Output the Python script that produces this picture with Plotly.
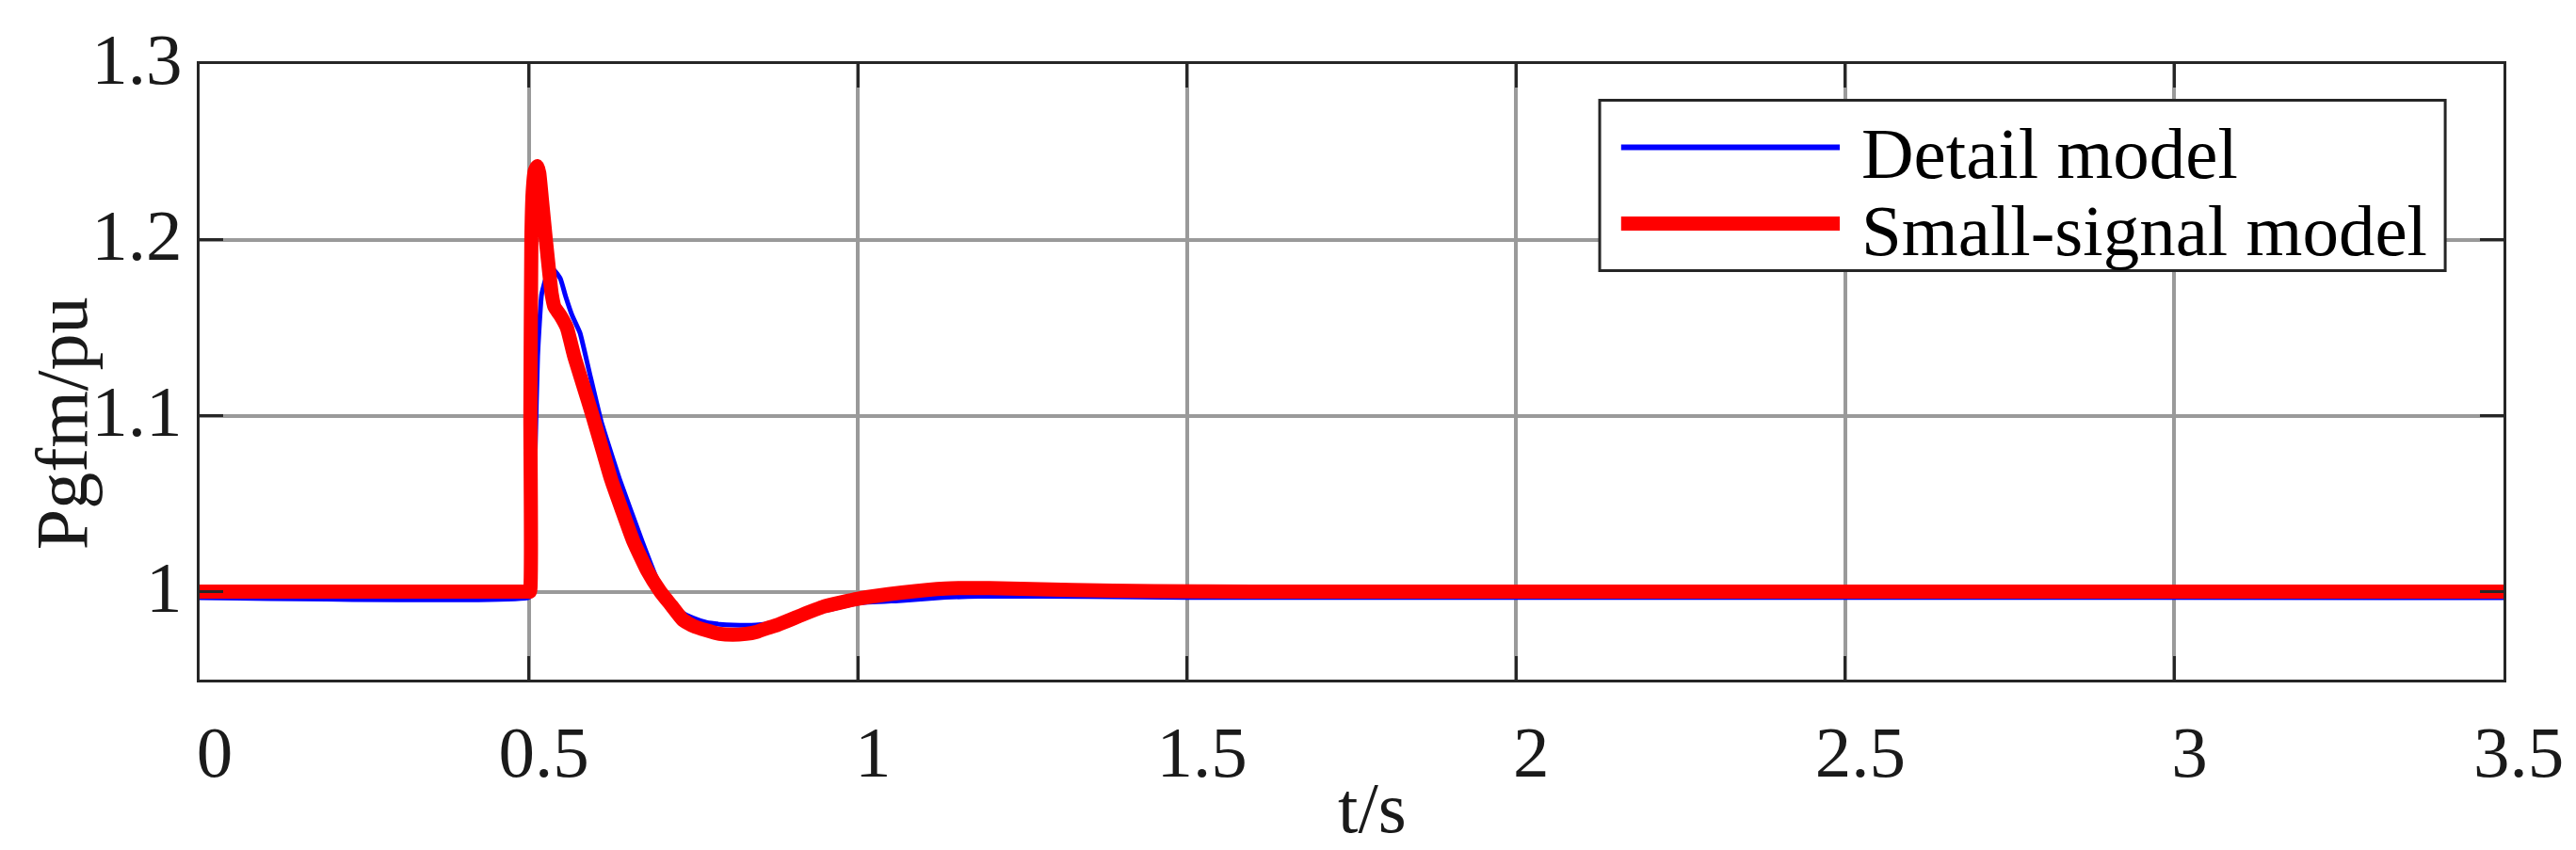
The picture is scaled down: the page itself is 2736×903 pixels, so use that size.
import plotly.graph_objects as go

# time axis / values (t in s, P in pu)
t_detail = [0.0, 0.5, 0.506, 0.508, 0.510, 0.5136, 0.5196, 0.527, 0.538, 0.548,
            0.556, 0.566, 0.578, 0.592, 0.610, 0.638, 0.672, 0.703, 0.72, 0.734,
            0.75, 0.77, 0.79, 0.81, 0.845, 0.877, 0.91, 0.948, 1.0, 1.067,
            1.133, 1.2, 1.35, 1.5, 3.5]
p_detail = [0.9966, 0.9966, 1.0, 1.05, 1.082, 1.134, 1.169, 1.179, 1.183, 1.178,
            1.168, 1.157, 1.147, 1.125, 1.097, 1.064, 1.029, 1.0, 0.993, 0.988,
            0.985, 0.9825, 0.9815, 0.981, 0.981, 0.9825, 0.9855, 0.989, 0.9935, 0.995,
            0.9968, 0.9975, 0.9972, 0.9967, 0.9966]

t_small = [0.0, 0.5, 0.502, 0.5025, 0.504, 0.506, 0.509, 0.513, 0.516, 0.520,
           0.526, 0.531, 0.535, 0.539, 0.548, 0.558, 0.569, 0.583, 0.597, 0.611,
           0.625, 0.642, 0.659, 0.680, 0.700, 0.717, 0.734, 0.75, 0.77, 0.79,
           0.81, 0.83, 0.845, 0.86, 0.877, 0.91, 0.948, 1.0, 1.067, 1.133,
           1.2, 1.325, 1.45, 1.6, 3.5]
p_small = [1.0, 1.0, 1.0, 1.1, 1.2, 1.227, 1.239, 1.242, 1.238, 1.223,
           1.2, 1.182, 1.169, 1.162, 1.157, 1.150, 1.134, 1.117, 1.1, 1.082,
           1.064, 1.046, 1.0286, 1.012, 1.0, 0.992, 0.984, 0.9805, 0.978, 0.976,
           0.9755, 0.976, 0.977, 0.979, 0.981, 0.986, 0.9915, 0.996, 0.9995, 1.0018,
           1.002, 1.001, 1.0003, 1.0, 1.0]

names = ['Detail model', 'Small-signal model']
x_ticks = [0, 0.5, 1, 1.5, 2, 2.5, 3, 3.5]
x_ticktext = ['0', '0.5', '1', '1.5', '2', '2.5', '3', '3.5']
y_ticks = [1.0, 1.1, 1.2, 1.3]
y_ticktext = ['1', '1.1', '1.2', '1.3']

FONT = 'Liberation Serif, Times New Roman, serif'
AX = '#262626'

fig = go.Figure()
fig.add_trace(go.Scatter(x=t_detail, y=p_detail, mode='lines', name=names[0],
                         line=dict(color='#0000ff', width=5, shape='spline', smoothing=0.4),
                         showlegend=False))
fig.add_trace(go.Scatter(x=t_small, y=p_small, mode='lines', name=names[1],
                         line=dict(color='#ff0000', width=15, shape='spline', smoothing=0.4),
                         showlegend=False))

axis_common = dict(showline=True, linewidth=3, linecolor=AX, mirror='ticks',
                   ticks='inside', ticklen=25, tickwidth=3, tickcolor=AX,
                   showgrid=True, gridcolor='#9a9a9a', gridwidth=4, zeroline=False,
                   tickfont=dict(family=FONT, size=77, color='#1a1a1a'))

fig.update_xaxes(range=[0, 3.5], tickvals=x_ticks, ticktext=x_ticktext,
                 ticklabelshift=16, ticklabelstandoff=8, **axis_common)
fig.update_yaxes(range=[0.95, 1.3], tickvals=y_ticks, ticktext=y_ticktext,
                 ticklabelshift=-6, ticklabelstandoff=0, **axis_common)

# hand-made legend box, MATLAB style with long line samples
fig.add_shape(type='rect', xref='paper', yref='paper', x0=0.6077, x1=0.9747, y0=0.6642, y1=0.9413,
              line=dict(color=AX, width=3), fillcolor='white', layer='above')
fig.add_shape(type='line', xref='paper', yref='paper', x0=0.6170, x1=0.7119, y0=0.8645, y1=0.8645,
              line=dict(color='#0000ff', width=6), layer='above')
fig.add_shape(type='line', xref='paper', yref='paper', x0=0.6170, x1=0.7119, y0=0.7410, y1=0.7410,
              line=dict(color='#ff0000', width=15), layer='above')
for name, yy in zip(names, [0.8547, 0.7297]):
    fig.add_annotation(text=name, xref='paper', yref='paper', x=0.7205, y=yy,
                       xanchor='left', yanchor='middle', showarrow=False,
                       font=dict(family=FONT, size=77, color='black'))

# axis titles
fig.add_annotation(text='t/s', xref='paper', yref='paper', x=0.5088, y=-0.208,
                   xanchor='center', yanchor='middle', showarrow=False,
                   font=dict(family=FONT, size=77, color='#1a1a1a'))
fig.add_annotation(text='Pgfm/pu', xref='paper', yref='paper', x=-0.0601, y=0.417,
                   xanchor='center', yanchor='middle', textangle=-90, showarrow=False,
                   font=dict(family=FONT, size=78, color='#1a1a1a'))

fig.update_layout(width=2736, height=903, autosize=False,
                  margin=dict(l=204, r=85, t=50, b=189),
                  paper_bgcolor='white', plot_bgcolor='white')

fig.write_html("out.html")
